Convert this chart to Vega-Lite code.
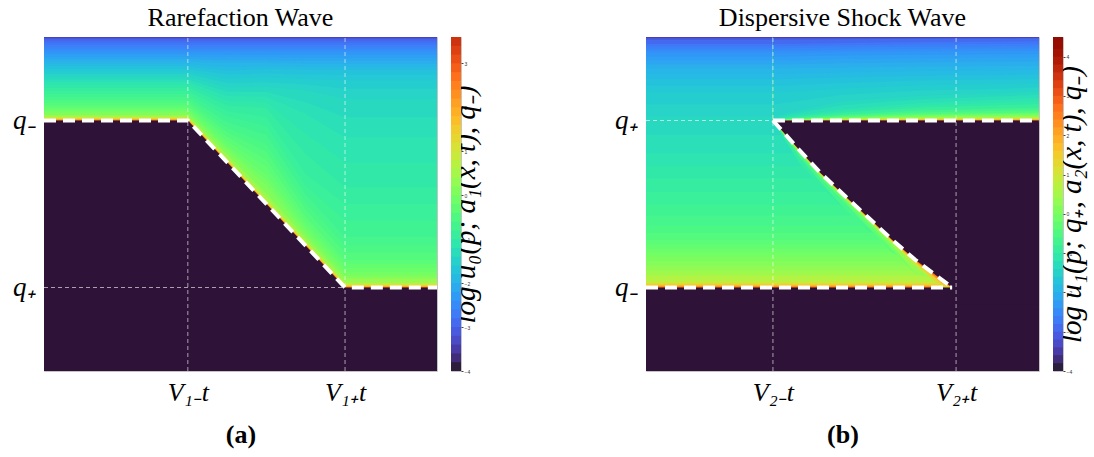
{
"$schema": "https://vega.github.io/schema/vega-lite/v6.json",
"background": "white",
"padding": {"left": 12, "top": 4, "right": 0, "bottom": 2},
"spacing": 132,
"config": {"view": {"stroke": "#c4c4c4", "strokeWidth": 1}, "axis": {"domain": false, "ticks": false, "grid": false, "labelColor": "black", "titleColor": "black"}},
"datasets": {
"a_bands": [
{"k":"a00","v":2.7,"x":0,"y":0},{"k":"a00","v":2.7,"x":100,"y":0},
{"k":"a01","v":1.9,"x":0,"y":75.19},{"k":"a01","v":1.9,"x":36.6,"y":75.19},{"k":"a01","v":1.9,"x":46.6,"y":62.65},{"k":"a01","v":1.9,"x":56.6,"y":50.15},{"k":"a01","v":1.9,"x":66.6,"y":37.68},{"k":"a01","v":1.9,"x":76.6,"y":25.2},{"k":"a01","v":1.9,"x":100,"y":25.2},
{"k":"a02","v":1.4,"x":0,"y":75.39},{"k":"a02","v":1.4,"x":36.6,"y":75.39},{"k":"a02","v":1.4,"x":46.6,"y":62.85},{"k":"a02","v":1.4,"x":56.6,"y":50.36},{"k":"a02","v":1.4,"x":66.6,"y":37.9},{"k":"a02","v":1.4,"x":76.6,"y":25.37},{"k":"a02","v":1.4,"x":100,"y":25.37},
{"k":"a03","v":1.0,"x":0,"y":75.58},{"k":"a03","v":1.0,"x":36.6,"y":75.58},{"k":"a03","v":1.0,"x":46.6,"y":63.0},{"k":"a03","v":1.0,"x":56.6,"y":50.56},{"k":"a03","v":1.0,"x":66.6,"y":38.1},{"k":"a03","v":1.0,"x":76.6,"y":25.69},{"k":"a03","v":1.0,"x":100,"y":25.69},
{"k":"a04","v":0.65,"x":0,"y":75.88},{"k":"a04","v":0.65,"x":36.6,"y":75.88},{"k":"a04","v":0.65,"x":46.6,"y":63.4},{"k":"a04","v":0.65,"x":56.6,"y":51.0},{"k":"a04","v":0.65,"x":66.6,"y":38.5},{"k":"a04","v":0.65,"x":76.6,"y":26.07},{"k":"a04","v":0.65,"x":100,"y":26.07},
{"k":"a05","v":0.35,"x":0,"y":76.24},{"k":"a05","v":0.35,"x":36.6,"y":76.24},{"k":"a05","v":0.35,"x":46.6,"y":64.0},{"k":"a05","v":0.35,"x":56.6,"y":51.8},{"k":"a05","v":0.35,"x":66.6,"y":39.03},{"k":"a05","v":0.35,"x":76.6,"y":26.5},{"k":"a05","v":0.35,"x":100,"y":26.5},
{"k":"a06","v":0.1,"x":0,"y":76.6},{"k":"a06","v":0.1,"x":36.6,"y":76.6},{"k":"a06","v":0.1,"x":46.6,"y":64.81},{"k":"a06","v":0.1,"x":56.6,"y":53.1},{"k":"a06","v":0.1,"x":66.6,"y":40.0},{"k":"a06","v":0.1,"x":76.6,"y":27.7},{"k":"a06","v":0.1,"x":100,"y":27.7},
{"k":"a07","v":-0.05,"x":0,"y":77.46},{"k":"a07","v":-0.05,"x":36.6,"y":77.46},{"k":"a07","v":-0.05,"x":46.6,"y":66.06},{"k":"a07","v":-0.05,"x":56.6,"y":55.6},{"k":"a07","v":-0.05,"x":66.6,"y":41.06},{"k":"a07","v":-0.05,"x":76.6,"y":28.7},{"k":"a07","v":-0.05,"x":100,"y":28.7},
{"k":"a08","v":-0.15,"x":0,"y":77.93},{"k":"a08","v":-0.15,"x":36.6,"y":77.93},{"k":"a08","v":-0.15,"x":46.6,"y":66.83},{"k":"a08","v":-0.15,"x":56.6,"y":57.15},{"k":"a08","v":-0.15,"x":66.6,"y":42.18},{"k":"a08","v":-0.15,"x":76.6,"y":29.75},{"k":"a08","v":-0.15,"x":100,"y":29.75},
{"k":"a09","v":-0.25,"x":0,"y":78.4},{"k":"a09","v":-0.25,"x":36.6,"y":78.4},{"k":"a09","v":-0.25,"x":46.6,"y":67.6},{"k":"a09","v":-0.25,"x":56.6,"y":58.7},{"k":"a09","v":-0.25,"x":66.6,"y":43.3},{"k":"a09","v":-0.25,"x":76.6,"y":30.8},{"k":"a09","v":-0.25,"x":100,"y":30.8},
{"k":"a10","v":-0.35,"x":0,"y":79.0},{"k":"a10","v":-0.35,"x":36.6,"y":79.0},{"k":"a10","v":-0.35,"x":46.6,"y":68.85},{"k":"a10","v":-0.35,"x":56.6,"y":61.0},{"k":"a10","v":-0.35,"x":66.6,"y":44.7},{"k":"a10","v":-0.35,"x":76.6,"y":32.05},{"k":"a10","v":-0.35,"x":100,"y":32.05},
{"k":"a11","v":-0.45,"x":0,"y":79.6},{"k":"a11","v":-0.45,"x":36.6,"y":79.6},{"k":"a11","v":-0.45,"x":46.6,"y":70.1},{"k":"a11","v":-0.45,"x":56.6,"y":63.3},{"k":"a11","v":-0.45,"x":66.6,"y":46.1},{"k":"a11","v":-0.45,"x":76.6,"y":33.3},{"k":"a11","v":-0.45,"x":100,"y":33.3},
{"k":"a12","v":-0.55,"x":0,"y":80.37},{"k":"a12","v":-0.55,"x":36.6,"y":80.37},{"k":"a12","v":-0.55,"x":46.6,"y":71.45},{"k":"a12","v":-0.55,"x":56.6,"y":65.65},{"k":"a12","v":-0.55,"x":66.6,"y":48.2},{"k":"a12","v":-0.55,"x":76.6,"y":35.45},{"k":"a12","v":-0.55,"x":100,"y":35.45},
{"k":"a13","v":-0.65,"x":0,"y":81.13},{"k":"a13","v":-0.65,"x":36.6,"y":81.13},{"k":"a13","v":-0.65,"x":46.6,"y":72.8},{"k":"a13","v":-0.65,"x":56.6,"y":68.0},{"k":"a13","v":-0.65,"x":66.6,"y":50.3},{"k":"a13","v":-0.65,"x":76.6,"y":37.6},{"k":"a13","v":-0.65,"x":100,"y":37.6},
{"k":"a14","v":-0.75,"x":0,"y":82.06},{"k":"a14","v":-0.75,"x":36.6,"y":82.06},{"k":"a14","v":-0.75,"x":46.6,"y":74.5},{"k":"a14","v":-0.75,"x":56.6,"y":70.65},{"k":"a14","v":-0.75,"x":66.6,"y":52.8},{"k":"a14","v":-0.75,"x":76.6,"y":40.15},{"k":"a14","v":-0.75,"x":100,"y":40.15},
{"k":"a15","v":-0.85,"x":0,"y":82.98},{"k":"a15","v":-0.85,"x":36.6,"y":82.98},{"k":"a15","v":-0.85,"x":46.6,"y":76.2},{"k":"a15","v":-0.85,"x":56.6,"y":73.3},{"k":"a15","v":-0.85,"x":66.6,"y":55.3},{"k":"a15","v":-0.85,"x":76.6,"y":45.0},{"k":"a15","v":-0.85,"x":100,"y":45.0},
{"k":"a16","v":-0.95,"x":0,"y":83.91},{"k":"a16","v":-0.95,"x":36.6,"y":83.91},{"k":"a16","v":-0.95,"x":46.6,"y":77.85},{"k":"a16","v":-0.95,"x":56.6,"y":76.0},{"k":"a16","v":-0.95,"x":66.6,"y":59.0},{"k":"a16","v":-0.95,"x":76.6,"y":50.0},{"k":"a16","v":-0.95,"x":100,"y":50.0},
{"k":"a17","v":-1.05,"x":0,"y":84.84},{"k":"a17","v":-1.05,"x":36.6,"y":84.84},{"k":"a17","v":-1.05,"x":46.6,"y":79.5},{"k":"a17","v":-1.05,"x":56.6,"y":78.7},{"k":"a17","v":-1.05,"x":66.6,"y":65.0},{"k":"a17","v":-1.05,"x":76.6,"y":55.0},{"k":"a17","v":-1.05,"x":100,"y":55.0},
{"k":"a18","v":-1.15,"x":0,"y":85.67},{"k":"a18","v":-1.15,"x":36.6,"y":85.67},{"k":"a18","v":-1.15,"x":46.6,"y":80.9},{"k":"a18","v":-1.15,"x":56.6,"y":80.4},{"k":"a18","v":-1.15,"x":66.6,"y":71.0},{"k":"a18","v":-1.15,"x":76.6,"y":62.5},{"k":"a18","v":-1.15,"x":100,"y":62.5},
{"k":"a19","v":-1.25,"x":0,"y":86.5},{"k":"a19","v":-1.25,"x":36.6,"y":86.5},{"k":"a19","v":-1.25,"x":46.6,"y":82.3},{"k":"a19","v":-1.25,"x":56.6,"y":82.1},{"k":"a19","v":-1.25,"x":66.6,"y":77.0},{"k":"a19","v":-1.25,"x":76.6,"y":70.0},{"k":"a19","v":-1.25,"x":100,"y":70.0},
{"k":"a20","v":-1.35,"x":0,"y":87.3},{"k":"a20","v":-1.35,"x":36.6,"y":87.3},{"k":"a20","v":-1.35,"x":46.6,"y":83.6},{"k":"a20","v":-1.35,"x":56.6,"y":83.55},{"k":"a20","v":-1.35,"x":66.6,"y":80.5},{"k":"a20","v":-1.35,"x":76.6,"y":76.0},{"k":"a20","v":-1.35,"x":100,"y":76.0},
{"k":"a21","v":-1.45,"x":0,"y":88.1},{"k":"a21","v":-1.45,"x":36.6,"y":88.1},{"k":"a21","v":-1.45,"x":46.6,"y":84.9},{"k":"a21","v":-1.45,"x":56.6,"y":85.0},{"k":"a21","v":-1.45,"x":66.6,"y":84.0},{"k":"a21","v":-1.45,"x":76.6,"y":81.5},{"k":"a21","v":-1.45,"x":100,"y":81.5},
{"k":"a22","v":-1.55,"x":0,"y":88.9},{"k":"a22","v":-1.55,"x":36.6,"y":88.9},{"k":"a22","v":-1.55,"x":46.6,"y":86.25},{"k":"a22","v":-1.55,"x":56.6,"y":86.45},{"k":"a22","v":-1.55,"x":66.6,"y":85.8},{"k":"a22","v":-1.55,"x":76.6,"y":84.5},{"k":"a22","v":-1.55,"x":100,"y":84.5},
{"k":"a23","v":-1.65,"x":0,"y":89.7},{"k":"a23","v":-1.65,"x":36.6,"y":89.7},{"k":"a23","v":-1.65,"x":46.6,"y":87.6},{"k":"a23","v":-1.65,"x":56.6,"y":87.9},{"k":"a23","v":-1.65,"x":66.6,"y":87.4},{"k":"a23","v":-1.65,"x":76.6,"y":87.0},{"k":"a23","v":-1.65,"x":100,"y":87.0},
{"k":"a24","v":-1.75,"x":0,"y":90.45},{"k":"a24","v":-1.75,"x":36.6,"y":90.45},{"k":"a24","v":-1.75,"x":46.6,"y":88.8},{"k":"a24","v":-1.75,"x":56.6,"y":89.15},{"k":"a24","v":-1.75,"x":66.6,"y":88.8},{"k":"a24","v":-1.75,"x":76.6,"y":88.6},{"k":"a24","v":-1.75,"x":100,"y":88.6},
{"k":"a25","v":-1.85,"x":0,"y":91.2},{"k":"a25","v":-1.85,"x":36.6,"y":91.2},{"k":"a25","v":-1.85,"x":46.6,"y":90.0},{"k":"a25","v":-1.85,"x":56.6,"y":90.4},{"k":"a25","v":-1.85,"x":66.6,"y":90.2},{"k":"a25","v":-1.85,"x":76.6,"y":90.2},{"k":"a25","v":-1.85,"x":100,"y":90.2},
{"k":"a26","v":-1.95,"x":0,"y":91.93},{"k":"a26","v":-1.95,"x":36.6,"y":91.93},{"k":"a26","v":-1.95,"x":46.6,"y":91.1},{"k":"a26","v":-1.95,"x":56.6,"y":91.3},{"k":"a26","v":-1.95,"x":66.6,"y":91.1},{"k":"a26","v":-1.95,"x":76.6,"y":91.1},{"k":"a26","v":-1.95,"x":100,"y":91.1},
{"k":"a27","v":-2.05,"x":0,"y":92.65},{"k":"a27","v":-2.05,"x":36.6,"y":92.65},{"k":"a27","v":-2.05,"x":46.6,"y":92.2},{"k":"a27","v":-2.05,"x":56.6,"y":92.2},{"k":"a27","v":-2.05,"x":66.6,"y":92.0},{"k":"a27","v":-2.05,"x":100,"y":92.0},
{"k":"a28","v":-2.15,"x":0,"y":93.38},{"k":"a28","v":-2.15,"x":36.6,"y":93.38},{"k":"a28","v":-2.15,"x":46.6,"y":93.05},{"k":"a28","v":-2.15,"x":56.6,"y":93.05},{"k":"a28","v":-2.15,"x":66.6,"y":92.9},{"k":"a28","v":-2.15,"x":100,"y":92.9},
{"k":"a29","v":-2.25,"x":0,"y":94.1},{"k":"a29","v":-2.25,"x":36.6,"y":94.1},{"k":"a29","v":-2.25,"x":46.6,"y":93.9},{"k":"a29","v":-2.25,"x":56.6,"y":93.9},{"k":"a29","v":-2.25,"x":66.6,"y":93.8},{"k":"a29","v":-2.25,"x":100,"y":93.8},
{"k":"a30","v":-2.35,"x":0,"y":94.83},{"k":"a30","v":-2.35,"x":36.6,"y":94.83},{"k":"a30","v":-2.35,"x":56.6,"y":94.73},{"k":"a30","v":-2.35,"x":100,"y":94.68},
{"k":"a31","v":-2.45,"x":0,"y":95.55},{"k":"a31","v":-2.45,"x":100,"y":95.55},
{"k":"a32","v":-2.55,"x":0,"y":96.23},{"k":"a32","v":-2.55,"x":100,"y":96.23},
{"k":"a33","v":-2.65,"x":0,"y":96.9},{"k":"a33","v":-2.65,"x":100,"y":96.9},
{"k":"a34","v":-2.75,"x":0,"y":97.6},{"k":"a34","v":-2.75,"x":100,"y":97.6},
{"k":"a35","v":-2.85,"x":0,"y":98.3},{"k":"a35","v":-2.85,"x":100,"y":98.3},
{"k":"a36","v":-2.95,"x":0,"y":98.82},{"k":"a36","v":-2.95,"x":100,"y":98.82},
{"k":"a37","v":-3.15,"x":0,"y":99.33},{"k":"a37","v":-3.15,"x":100,"y":99.33},
{"k":"a38","v":-3.45,"x":0,"y":99.75},{"k":"a38","v":-3.45,"x":100,"y":99.75}
],
"a_dark": [{"x":0,"y":75},{"x":36.6,"y":75},{"x":76.6,"y":25},{"x":100,"y":25}],
"a_white": [{"x":0,"y":75},{"x":36.6,"y":75},{"x":76.6,"y":25},{"x":100,"y":25}],
"a_rules": [{"x":36.6,"xe":36.6,"y":0,"ye":100},{"x":76.6,"xe":76.6,"y":0,"ye":100},{"x":0,"xe":76.6,"y":25,"ye":25}],
"b_bands": [
{"k":"b00","v":2.7,"x":0,"y":0},{"k":"b00","v":2.7,"x":100,"y":0},
{"k":"b01","v":1.9,"x":0,"y":25.3},{"k":"b01","v":1.9,"x":100,"y":25.3},
{"k":"b02","v":1.4,"x":0,"y":25.65},{"k":"b02","v":1.4,"x":100,"y":25.65},
{"k":"b03","v":1.0,"x":0,"y":26.1},{"k":"b03","v":1.0,"x":100,"y":26.1},
{"k":"b04","v":0.65,"x":0,"y":26.8},{"k":"b04","v":0.65,"x":100,"y":26.8},
{"k":"b05","v":0.425,"x":0,"y":28.6},{"k":"b05","v":0.425,"x":100,"y":28.6},
{"k":"b06","v":0.275,"x":0,"y":30.0},{"k":"b06","v":0.275,"x":100,"y":30.0},
{"k":"b07","v":0.15,"x":0,"y":31.4},{"k":"b07","v":0.15,"x":100,"y":31.4},
{"k":"b08","v":0.05,"x":0,"y":32.85},{"k":"b08","v":0.05,"x":100,"y":32.85},
{"k":"b09","v":-0.05,"x":0,"y":34.3},{"k":"b09","v":-0.05,"x":100,"y":34.3},
{"k":"b10","v":-0.15,"x":0,"y":35.45},{"k":"b10","v":-0.15,"x":100,"y":35.45},
{"k":"b11","v":-0.25,"x":0,"y":36.6},{"k":"b11","v":-0.25,"x":100,"y":36.6},
{"k":"b12","v":-0.35,"x":0,"y":37.95},{"k":"b12","v":-0.35,"x":100,"y":37.95},
{"k":"b13","v":-0.45,"x":0,"y":39.3},{"k":"b13","v":-0.45,"x":100,"y":39.3},
{"k":"b14","v":-0.55,"x":0,"y":41.35},{"k":"b14","v":-0.55,"x":100,"y":41.35},
{"k":"b15","v":-0.65,"x":0,"y":43.4},{"k":"b15","v":-0.65,"x":100,"y":43.4},
{"k":"b16","v":-0.75,"x":0,"y":46.55},{"k":"b16","v":-0.75,"x":100,"y":46.55},
{"k":"b17","v":-0.85,"x":0,"y":49.7},{"k":"b17","v":-0.85,"x":100,"y":49.7},
{"k":"b18","v":-0.95,"x":0,"y":53.7},{"k":"b18","v":-0.95,"x":100,"y":53.7},
{"k":"b19","v":-1.05,"x":0,"y":57.7},{"k":"b19","v":-1.05,"x":100,"y":57.7},
{"k":"b20","v":-1.15,"x":0,"y":61.45},{"k":"b20","v":-1.15,"x":100,"y":61.45},
{"k":"b21","v":-1.25,"x":0,"y":65.2},{"k":"b21","v":-1.25,"x":100,"y":65.2},
{"k":"b22","v":-1.35,"x":0,"y":70.69},{"k":"b22","v":-1.35,"x":100,"y":70.69},
{"k":"b23","v":-1.45,"x":0,"y":76.18},{"k":"b23","v":-1.45,"x":100,"y":76.18},
{"k":"b24","v":-1.55,"x":0,"y":79.78},{"k":"b24","v":-1.55,"x":100,"y":79.78},
{"k":"b25","v":-1.65,"x":0,"y":83.38},{"k":"b25","v":-1.65,"x":100,"y":83.38},
{"k":"b26","v":-1.75,"x":0,"y":85.33},{"k":"b26","v":-1.75,"x":100,"y":85.33},
{"k":"b27","v":-1.85,"x":0,"y":87.28},{"k":"b27","v":-1.85,"x":100,"y":87.28},
{"k":"b28","v":-1.95,"x":0,"y":88.93},{"k":"b28","v":-1.95,"x":100,"y":88.93},
{"k":"b29","v":-2.05,"x":0,"y":90.57},{"k":"b29","v":-2.05,"x":100,"y":90.57},
{"k":"b30","v":-2.15,"x":0,"y":91.76},{"k":"b30","v":-2.15,"x":100,"y":91.76},
{"k":"b31","v":-2.25,"x":0,"y":92.95},{"k":"b31","v":-2.25,"x":100,"y":92.95},
{"k":"b32","v":-2.35,"x":0,"y":94.1},{"k":"b32","v":-2.35,"x":100,"y":94.1},
{"k":"b33","v":-2.45,"x":0,"y":95.26},{"k":"b33","v":-2.45,"x":100,"y":95.26},
{"k":"b34","v":-2.55,"x":0,"y":95.93},{"k":"b34","v":-2.55,"x":100,"y":95.93},
{"k":"b35","v":-2.65,"x":0,"y":96.6},{"k":"b35","v":-2.65,"x":100,"y":96.6},
{"k":"b36","v":-2.75,"x":0,"y":97.25},{"k":"b36","v":-2.75,"x":100,"y":97.25},
{"k":"b37","v":-2.9,"x":0,"y":97.9},{"k":"b37","v":-2.9,"x":100,"y":97.9},
{"k":"b38","v":-3.15,"x":0,"y":99.2},{"k":"b38","v":-3.15,"x":100,"y":99.2},
{"k":"b39","v":-3.45,"x":0,"y":99.7},{"k":"b39","v":-3.45,"x":100,"y":99.7}
],
"c_bands": [
{"k":"c00","v":2.7,"x":32.3,"y":74.7},{"k":"c00","v":2.7,"x":100,"y":74.7},
{"k":"c01","v":1.9,"x":32.3,"y":75},{"k":"c01","v":1.9,"x":36,"y":75.03},{"k":"c01","v":1.9,"x":50,"y":75.1},{"k":"c01","v":1.9,"x":70,"y":75.12},{"k":"c01","v":1.9,"x":100,"y":75.15},
{"k":"c02","v":1.4,"x":32.3,"y":75},{"k":"c02","v":1.4,"x":36,"y":75.05},{"k":"c02","v":1.4,"x":50,"y":75.18},{"k":"c02","v":1.4,"x":70,"y":75.24},{"k":"c02","v":1.4,"x":100,"y":75.3},
{"k":"c03","v":1.0,"x":32.3,"y":75},{"k":"c03","v":1.0,"x":36,"y":75.08},{"k":"c03","v":1.0,"x":50,"y":75.25},{"k":"c03","v":1.0,"x":70,"y":75.35},{"k":"c03","v":1.0,"x":100,"y":75.43},
{"k":"c04","v":0.65,"x":32.3,"y":75},{"k":"c04","v":0.65,"x":36,"y":75.12},{"k":"c04","v":0.65,"x":50,"y":75.38},{"k":"c04","v":0.65,"x":70,"y":75.55},{"k":"c04","v":0.65,"x":100,"y":75.71},
{"k":"c05","v":0.35,"x":32.3,"y":75},{"k":"c05","v":0.35,"x":36,"y":75.17},{"k":"c05","v":0.35,"x":50,"y":75.5},{"k":"c05","v":0.35,"x":70,"y":75.8},{"k":"c05","v":0.35,"x":100,"y":76.03},
{"k":"c06","v":0.1,"x":32.3,"y":75},{"k":"c06","v":0.1,"x":36,"y":75.22},{"k":"c06","v":0.1,"x":50,"y":75.65},{"k":"c06","v":0.1,"x":70,"y":76.05},{"k":"c06","v":0.1,"x":100,"y":76.38},
{"k":"c07","v":-0.1,"x":32.3,"y":75},{"k":"c07","v":-0.1,"x":36,"y":75.27},{"k":"c07","v":-0.1,"x":50,"y":75.8},{"k":"c07","v":-0.1,"x":70,"y":76.3},{"k":"c07","v":-0.1,"x":100,"y":76.74},
{"k":"c08","v":-0.3,"x":32.3,"y":75},{"k":"c08","v":-0.3,"x":36,"y":75.33},{"k":"c08","v":-0.3,"x":50,"y":75.95},{"k":"c08","v":-0.3,"x":70,"y":76.6},{"k":"c08","v":-0.3,"x":100,"y":77.1},
{"k":"c09","v":-0.5,"x":32.3,"y":75},{"k":"c09","v":-0.5,"x":36,"y":75.4},{"k":"c09","v":-0.5,"x":50,"y":76.15},{"k":"c09","v":-0.5,"x":70,"y":76.9},{"k":"c09","v":-0.5,"x":100,"y":77.45},
{"k":"c10","v":-0.7,"x":32.3,"y":75},{"k":"c10","v":-0.7,"x":36,"y":75.5},{"k":"c10","v":-0.7,"x":50,"y":76.4},{"k":"c10","v":-0.7,"x":70,"y":77.4},{"k":"c10","v":-0.7,"x":100,"y":78.1},
{"k":"c11","v":-0.9,"x":32.3,"y":75},{"k":"c11","v":-0.9,"x":36,"y":75.6},{"k":"c11","v":-0.9,"x":50,"y":76.75},{"k":"c11","v":-0.9,"x":70,"y":78.0},{"k":"c11","v":-0.9,"x":100,"y":78.8},
{"k":"c12","v":-1.05,"x":32.3,"y":75},{"k":"c12","v":-1.05,"x":36,"y":75.8},{"k":"c12","v":-1.05,"x":50,"y":77.3},{"k":"c12","v":-1.05,"x":70,"y":78.9},{"k":"c12","v":-1.05,"x":100,"y":79.9},
{"k":"c13","v":-1.15,"x":32.3,"y":75},{"k":"c13","v":-1.15,"x":36,"y":76.0},{"k":"c13","v":-1.15,"x":50,"y":77.85},{"k":"c13","v":-1.15,"x":70,"y":79.6},{"k":"c13","v":-1.15,"x":100,"y":80.83},
{"k":"c14","v":-1.25,"x":32.3,"y":75},{"k":"c14","v":-1.25,"x":36,"y":76.2},{"k":"c14","v":-1.25,"x":50,"y":78.4},{"k":"c14","v":-1.25,"x":70,"y":80.3},{"k":"c14","v":-1.25,"x":100,"y":81.75},
{"k":"c15","v":-1.35,"x":32.3,"y":75.59},{"k":"c15","v":-1.35,"x":36,"y":76.75},{"k":"c15","v":-1.35,"x":50,"y":79.6},{"k":"c15","v":-1.35,"x":70,"y":81.35},{"k":"c15","v":-1.35,"x":100,"y":82.68},
{"k":"c16","v":-1.45,"x":32.3,"y":76.18},{"k":"c16","v":-1.45,"x":36,"y":77.3},{"k":"c16","v":-1.45,"x":50,"y":80.8},{"k":"c16","v":-1.45,"x":70,"y":82.4},{"k":"c16","v":-1.45,"x":100,"y":83.6},
{"k":"c17","v":-1.55,"x":32.3,"y":79.78},{"k":"c17","v":-1.55,"x":36,"y":80.4},{"k":"c17","v":-1.55,"x":50,"y":82.7},{"k":"c17","v":-1.55,"x":70,"y":83.95},{"k":"c17","v":-1.55,"x":100,"y":84.85},
{"k":"c18","v":-1.65,"x":32.3,"y":83.38},{"k":"c18","v":-1.65,"x":36,"y":83.5},{"k":"c18","v":-1.65,"x":50,"y":84.6},{"k":"c18","v":-1.65,"x":70,"y":85.5},{"k":"c18","v":-1.65,"x":100,"y":86.1},
{"k":"c19","v":-1.75,"x":32.3,"y":85.33},{"k":"c19","v":-1.75,"x":36,"y":85.45},{"k":"c19","v":-1.75,"x":50,"y":86.25},{"k":"c19","v":-1.75,"x":70,"y":86.95},{"k":"c19","v":-1.75,"x":100,"y":87.45},
{"k":"c20","v":-1.85,"x":32.3,"y":87.28},{"k":"c20","v":-1.85,"x":36,"y":87.4},{"k":"c20","v":-1.85,"x":50,"y":87.9},{"k":"c20","v":-1.85,"x":70,"y":88.4},{"k":"c20","v":-1.85,"x":100,"y":88.8},
{"k":"c21","v":-1.95,"x":32.3,"y":88.93},{"k":"c21","v":-1.95,"x":36,"y":89.03},{"k":"c21","v":-1.95,"x":50,"y":89.4},{"k":"c21","v":-1.95,"x":70,"y":89.8},{"k":"c21","v":-1.95,"x":100,"y":90.1},
{"k":"c22","v":-2.05,"x":32.3,"y":90.57},{"k":"c22","v":-2.05,"x":36,"y":90.65},{"k":"c22","v":-2.05,"x":50,"y":90.9},{"k":"c22","v":-2.05,"x":70,"y":91.2},{"k":"c22","v":-2.05,"x":100,"y":91.4},
{"k":"c23","v":-2.15,"x":32.3,"y":91.76},{"k":"c23","v":-2.15,"x":36,"y":91.83},{"k":"c23","v":-2.15,"x":50,"y":92.15},{"k":"c23","v":-2.15,"x":70,"y":92.45},{"k":"c23","v":-2.15,"x":100,"y":92.65},
{"k":"c24","v":-2.25,"x":32.3,"y":92.95},{"k":"c24","v":-2.25,"x":36,"y":93.0},{"k":"c24","v":-2.25,"x":50,"y":93.4},{"k":"c24","v":-2.25,"x":70,"y":93.7},{"k":"c24","v":-2.25,"x":100,"y":93.9},
{"k":"c25","v":-2.35,"x":32.3,"y":94.1},{"k":"c25","v":-2.35,"x":36,"y":94.15},{"k":"c25","v":-2.35,"x":50,"y":94.45},{"k":"c25","v":-2.35,"x":70,"y":94.7},{"k":"c25","v":-2.35,"x":100,"y":94.9},
{"k":"c26","v":-2.45,"x":32.3,"y":95.26},{"k":"c26","v":-2.45,"x":36,"y":95.3},{"k":"c26","v":-2.45,"x":50,"y":95.5},{"k":"c26","v":-2.45,"x":70,"y":95.7},{"k":"c26","v":-2.45,"x":100,"y":95.9},
{"k":"c27","v":-2.55,"x":32.3,"y":95.93},{"k":"c27","v":-2.55,"x":36,"y":95.98},{"k":"c27","v":-2.55,"x":50,"y":96.2},{"k":"c27","v":-2.55,"x":70,"y":96.4},{"k":"c27","v":-2.55,"x":100,"y":96.6},
{"k":"c28","v":-2.65,"x":32.3,"y":96.6},{"k":"c28","v":-2.65,"x":36,"y":96.65},{"k":"c28","v":-2.65,"x":50,"y":96.9},{"k":"c28","v":-2.65,"x":70,"y":97.1},{"k":"c28","v":-2.65,"x":100,"y":97.3},
{"k":"c29","v":-2.75,"x":32.3,"y":97.25},{"k":"c29","v":-2.75,"x":36,"y":97.3},{"k":"c29","v":-2.75,"x":50,"y":97.55},{"k":"c29","v":-2.75,"x":70,"y":97.8},{"k":"c29","v":-2.75,"x":100,"y":98.0},
{"k":"c30","v":-2.9,"x":32.3,"y":97.9},{"k":"c30","v":-2.9,"x":36,"y":97.95},{"k":"c30","v":-2.9,"x":50,"y":98.2},{"k":"c30","v":-2.9,"x":70,"y":98.5},{"k":"c30","v":-2.9,"x":100,"y":98.7},
{"k":"c31","v":-3.15,"x":32.3,"y":99.2},{"k":"c31","v":-3.15,"x":36,"y":99.25},{"k":"c31","v":-3.15,"x":50,"y":99.35},{"k":"c31","v":-3.15,"x":70,"y":99.5},{"k":"c31","v":-3.15,"x":100,"y":99.6},
{"k":"c32","v":-3.45,"x":32.3,"y":99.7},{"k":"c32","v":-3.45,"x":100,"y":99.75}
],
"d_bands": [
{"k":"d00","v":-0.95,"x":32.3,"y":75,"lo":75},{"k":"d00","v":-0.95,"x":38.9,"y":66.9,"lo":62.5},{"k":"d00","v":-0.95,"x":44.4,"y":59.9,"lo":55.3},{"k":"d00","v":-0.95,"x":50.7,"y":52.9,"lo":48.3},{"k":"d00","v":-0.95,"x":56.7,"y":46.4,"lo":45.8},{"k":"d00","v":-0.95,"x":62.6,"y":39.9,"lo":39.3},{"k":"d00","v":-0.95,"x":68.5,"y":33.9,"lo":33.3},{"k":"d00","v":-0.95,"x":75.3,"y":27.9,"lo":27.3},{"k":"d00","v":-0.95,"x":77.9,"y":25.6,"lo":25},
{"k":"d01","v":-0.65,"x":32.3,"y":75,"lo":75},{"k":"d01","v":-0.65,"x":38.9,"y":66.9,"lo":64.35},{"k":"d01","v":-0.65,"x":44.4,"y":59.9,"lo":56.6},{"k":"d01","v":-0.65,"x":50.7,"y":52.9,"lo":48.3},{"k":"d01","v":-0.65,"x":56.7,"y":46.4,"lo":41.8},{"k":"d01","v":-0.65,"x":62.6,"y":39.9,"lo":39.3},{"k":"d01","v":-0.65,"x":68.5,"y":33.9,"lo":33.3},{"k":"d01","v":-0.65,"x":75.3,"y":27.9,"lo":27.3},{"k":"d01","v":-0.65,"x":77.9,"y":25.6,"lo":25},
{"k":"d02","v":-0.35,"x":32.3,"y":75,"lo":75},{"k":"d02","v":-0.35,"x":38.9,"y":66.9,"lo":65.03},{"k":"d02","v":-0.35,"x":44.4,"y":59.9,"lo":57.8},{"k":"d02","v":-0.35,"x":50.7,"y":52.9,"lo":50.2},{"k":"d02","v":-0.35,"x":56.7,"y":46.4,"lo":42.8},{"k":"d02","v":-0.35,"x":62.6,"y":39.9,"lo":35.3},{"k":"d02","v":-0.35,"x":68.5,"y":33.9,"lo":33.3},{"k":"d02","v":-0.35,"x":75.3,"y":27.9,"lo":27.3},{"k":"d02","v":-0.35,"x":77.9,"y":25.6,"lo":25},
{"k":"d03","v":-0.05,"x":32.3,"y":75,"lo":75},{"k":"d03","v":-0.05,"x":38.9,"y":66.9,"lo":65.42},{"k":"d03","v":-0.05,"x":44.4,"y":59.9,"lo":58.25},{"k":"d03","v":-0.05,"x":50.7,"y":52.9,"lo":50.95},{"k":"d03","v":-0.05,"x":56.7,"y":46.4,"lo":44.05},{"k":"d03","v":-0.05,"x":62.6,"y":39.9,"lo":36.3},{"k":"d03","v":-0.05,"x":68.5,"y":33.9,"lo":29.3},{"k":"d03","v":-0.05,"x":75.3,"y":27.9,"lo":27.3},{"k":"d03","v":-0.05,"x":77.9,"y":25.6,"lo":25},
{"k":"d04","v":0.3,"x":32.3,"y":75,"lo":75},{"k":"d04","v":0.3,"x":38.9,"y":66.9,"lo":65.71},{"k":"d04","v":0.3,"x":44.4,"y":59.9,"lo":58.58},{"k":"d04","v":0.3,"x":50.7,"y":52.9,"lo":51.37},{"k":"d04","v":0.3,"x":56.7,"y":46.4,"lo":44.65},{"k":"d04","v":0.3,"x":62.6,"y":39.9,"lo":37.55},{"k":"d04","v":0.3,"x":68.5,"y":33.9,"lo":29.3},{"k":"d04","v":0.3,"x":75.3,"y":27.9,"lo":27.3},{"k":"d04","v":0.3,"x":77.9,"y":25.6,"lo":25},
{"k":"d05","v":0.75,"x":32.3,"y":75,"lo":75},{"k":"d05","v":0.75,"x":38.9,"y":66.9,"lo":65.93},{"k":"d05","v":0.75,"x":44.4,"y":59.9,"lo":58.85},{"k":"d05","v":0.75,"x":50.7,"y":52.9,"lo":51.74},{"k":"d05","v":0.75,"x":56.7,"y":46.4,"lo":45.12},{"k":"d05","v":0.75,"x":62.6,"y":39.9,"lo":38.3},{"k":"d05","v":0.75,"x":68.5,"y":33.9,"lo":31.35},{"k":"d05","v":0.75,"x":75.3,"y":27.9,"lo":25},{"k":"d05","v":0.75,"x":77.9,"y":25.6,"lo":25},
{"k":"d06","v":1.3,"x":32.3,"y":75,"lo":75},{"k":"d06","v":1.3,"x":38.9,"y":66.9,"lo":66.06},{"k":"d06","v":1.3,"x":44.4,"y":59.9,"lo":59.02},{"k":"d06","v":1.3,"x":50.7,"y":52.9,"lo":51.97},{"k":"d06","v":1.3,"x":56.7,"y":46.4,"lo":45.42},{"k":"d06","v":1.3,"x":62.6,"y":39.9,"lo":38.75},{"k":"d06","v":1.3,"x":68.5,"y":33.9,"lo":32.3},{"k":"d06","v":1.3,"x":75.3,"y":27.9,"lo":25},{"k":"d06","v":1.3,"x":77.9,"y":25.6,"lo":25},
{"k":"d07","v":1.9,"x":32.3,"y":75,"lo":75},{"k":"d07","v":1.9,"x":38.9,"y":66.9,"lo":66.17},{"k":"d07","v":1.9,"x":44.4,"y":59.9,"lo":59.15},{"k":"d07","v":1.9,"x":50.7,"y":52.9,"lo":52.11},{"k":"d07","v":1.9,"x":56.7,"y":46.4,"lo":45.58},{"k":"d07","v":1.9,"x":62.6,"y":39.9,"lo":39.0},{"k":"d07","v":1.9,"x":68.5,"y":33.9,"lo":32.8},{"k":"d07","v":1.9,"x":75.3,"y":27.9,"lo":26.2},{"k":"d07","v":1.9,"x":77.9,"y":25.6,"lo":25},
{"k":"d08","v":2.6,"x":32.3,"y":75,"lo":75},{"k":"d08","v":2.6,"x":38.9,"y":66.9,"lo":66.22},{"k":"d08","v":2.6,"x":44.4,"y":59.9,"lo":59.21},{"k":"d08","v":2.6,"x":50.7,"y":52.9,"lo":52.2},{"k":"d08","v":2.6,"x":56.7,"y":46.4,"lo":45.68},{"k":"d08","v":2.6,"x":62.6,"y":39.9,"lo":39.13},{"k":"d08","v":2.6,"x":68.5,"y":33.9,"lo":33.03},{"k":"d08","v":2.6,"x":75.3,"y":27.9,"lo":26.75},{"k":"d08","v":2.6,"x":77.9,"y":25.6,"lo":25}
],
"b_dark": [
{"k":"1","x":0,"y":25,"lo":0},{"k":"1","x":100,"y":25,"lo":0},
{"k":"2","x":32.3,"y":75,"lo":75},{"k":"2","x":38.9,"y":75,"lo":66.3},{"k":"2","x":44.4,"y":75,"lo":59.3},{"k":"2","x":50.7,"y":75,"lo":52.3},{"k":"2","x":56.7,"y":75,"lo":45.8},{"k":"2","x":62.6,"y":75,"lo":39.3},{"k":"2","x":68.5,"y":75,"lo":33.3},{"k":"2","x":75.3,"y":75,"lo":27.3},{"k":"2","x":77.9,"y":75,"lo":25},{"k":"2","x":78.0,"y":75,"lo":20},{"k":"2","x":100,"y":75,"lo":20}
],
"b_white": [
{"s":"m","x":0,"y":25},{"s":"m","x":77.9,"y":25},
{"s":"c","x":32.3,"y":75},{"s":"c","x":38.9,"y":66.3},{"s":"c","x":44.4,"y":59.3},{"s":"c","x":50.7,"y":52.3},{"s":"c","x":56.7,"y":45.8},{"s":"c","x":62.6,"y":39.3},{"s":"c","x":68.5,"y":33.3},{"s":"c","x":75.3,"y":27.3},{"s":"c","x":77.9,"y":25},
{"s":"p","x":32.3,"y":75},{"s":"p","x":100,"y":75}
],
"b_rules": [{"x":32.3,"xe":32.3,"y":0,"ye":100},{"x":78.9,"xe":78.9,"y":0,"ye":100},{"x":0,"xe":32.3,"y":75,"ye":75}],
"cb_a": [
{"lo":-4.0,"hi":-3.78,"v":-3.9},{"lo":-3.8,"hi":-3.58,"v":-3.7},{"lo":-3.6,"hi":-3.38,"v":-3.5},{"lo":-3.4,"hi":-3.18,"v":-3.3},{"lo":-3.2,"hi":-2.98,"v":-3.1},{"lo":-3.0,"hi":-2.78,"v":-2.9},{"lo":-2.8,"hi":-2.58,"v":-2.7},{"lo":-2.6,"hi":-2.38,"v":-2.5},{"lo":-2.4,"hi":-2.18,"v":-2.3},{"lo":-2.2,"hi":-1.98,"v":-2.1},
{"lo":-2.0,"hi":-1.78,"v":-1.9},{"lo":-1.8,"hi":-1.58,"v":-1.7},{"lo":-1.6,"hi":-1.38,"v":-1.5},{"lo":-1.4,"hi":-1.18,"v":-1.3},{"lo":-1.2,"hi":-0.98,"v":-1.1},{"lo":-1.0,"hi":-0.78,"v":-0.9},{"lo":-0.8,"hi":-0.58,"v":-0.7},{"lo":-0.6,"hi":-0.38,"v":-0.5},{"lo":-0.4,"hi":-0.18,"v":-0.3},{"lo":-0.2,"hi":0.02,"v":-0.1},
{"lo":0.0,"hi":0.22,"v":0.1},{"lo":0.2,"hi":0.42,"v":0.3},{"lo":0.4,"hi":0.62,"v":0.5},{"lo":0.6,"hi":0.82,"v":0.7},{"lo":0.8,"hi":1.02,"v":0.9},{"lo":1.0,"hi":1.22,"v":1.1},{"lo":1.2,"hi":1.42,"v":1.3},{"lo":1.4,"hi":1.62,"v":1.5},{"lo":1.6,"hi":1.82,"v":1.7},{"lo":1.8,"hi":2.02,"v":1.9},
{"lo":2.0,"hi":2.22,"v":2.1},{"lo":2.2,"hi":2.42,"v":2.3},{"lo":2.4,"hi":2.62,"v":2.5},{"lo":2.6,"hi":2.82,"v":2.7},{"lo":2.8,"hi":3.02,"v":2.9},{"lo":3.0,"hi":3.22,"v":3.1},{"lo":3.2,"hi":3.42,"v":3.3},{"lo":3.4,"hi":3.6,"v":3.5}
],
"cb_b": [
{"lo":-4.0,"hi":-3.78,"v":-3.9},{"lo":-3.8,"hi":-3.58,"v":-3.7},{"lo":-3.6,"hi":-3.38,"v":-3.5},{"lo":-3.4,"hi":-3.18,"v":-3.3},{"lo":-3.2,"hi":-2.98,"v":-3.1},{"lo":-3.0,"hi":-2.78,"v":-2.9},{"lo":-2.8,"hi":-2.58,"v":-2.7},{"lo":-2.6,"hi":-2.38,"v":-2.5},{"lo":-2.4,"hi":-2.18,"v":-2.3},{"lo":-2.2,"hi":-1.98,"v":-2.1},
{"lo":-2.0,"hi":-1.78,"v":-1.9},{"lo":-1.8,"hi":-1.58,"v":-1.7},{"lo":-1.6,"hi":-1.38,"v":-1.5},{"lo":-1.4,"hi":-1.18,"v":-1.3},{"lo":-1.2,"hi":-0.98,"v":-1.1},{"lo":-1.0,"hi":-0.78,"v":-0.9},{"lo":-0.8,"hi":-0.58,"v":-0.7},{"lo":-0.6,"hi":-0.38,"v":-0.5},{"lo":-0.4,"hi":-0.18,"v":-0.3},{"lo":-0.2,"hi":0.02,"v":-0.1},
{"lo":0.0,"hi":0.22,"v":0.1},{"lo":0.2,"hi":0.42,"v":0.3},{"lo":0.4,"hi":0.62,"v":0.5},{"lo":0.6,"hi":0.82,"v":0.7},{"lo":0.8,"hi":1.02,"v":0.9},{"lo":1.0,"hi":1.22,"v":1.1},{"lo":1.2,"hi":1.42,"v":1.3},{"lo":1.4,"hi":1.62,"v":1.5},{"lo":1.6,"hi":1.82,"v":1.7},{"lo":1.8,"hi":2.02,"v":1.9},
{"lo":2.0,"hi":2.22,"v":2.1},{"lo":2.2,"hi":2.42,"v":2.3},{"lo":2.4,"hi":2.62,"v":2.5},{"lo":2.6,"hi":2.82,"v":2.7},{"lo":2.8,"hi":3.02,"v":2.9},{"lo":3.0,"hi":3.22,"v":3.1},{"lo":3.2,"hi":3.42,"v":3.3},{"lo":3.4,"hi":3.62,"v":3.5},{"lo":3.6,"hi":3.82,"v":3.7},{"lo":3.8,"hi":4.02,"v":3.9},
{"lo":4.0,"hi":4.22,"v":4.1},{"lo":4.2,"hi":4.42,"v":4.3},{"lo":4.4,"hi":4.5,"v":4.45}
]
},
"hconcat": [
{"spacing": 4, "hconcat": [
 {"width": 393, "height": 334,
  "title": {"text": "Rarefaction Wave", "font": "Liberation Serif", "fontSize": 26, "fontWeight": "normal", "offset": 6, "color": "black"},
  "encoding": {
   "x": {"field": "x", "type": "quantitative", "scale": {"domain": [0, 100], "nice": false, "zero": false},
     "axis": {"title": "(a)", "values": [36.6, 76.6], "labelExpr": "datum.value < 50 ? 'V₁₋t' : 'V₁₊t'", "labelFont": "Liberation Serif", "labelFontStyle": "italic", "labelFontSize": 26, "labelPadding": 8, "labelFlush": false, "labelOverlap": false, "titleFont": "Liberation Serif", "titleFontSize": 26, "titleFontWeight": "bold", "titlePadding": 16}},
   "y": {"field": "y", "type": "quantitative", "stack": null, "scale": {"domain": [0, 100], "nice": false, "zero": false},
     "axis": {"title": null, "values": [25, 75], "labelExpr": "datum.value > 50 ? 'q₋' : 'q₊'", "labelFont": "Liberation Serif", "labelFontStyle": "italic", "labelFontSize": 27, "labelPadding": 9, "labelOverlap": false}}
  },
  "layer": [
   {"data": {"name": "a_bands"}, "mark": {"type": "area", "clip": true},
    "encoding": {"y2": {"datum": 100}, "color": {"field": "v", "type": "quantitative", "scale": {"scheme": "turbo", "domain": [-4, 3.6]}, "legend": null}, "detail": {"field": "k", "type": "nominal"}}},
   {"data": {"name": "a_dark"}, "mark": {"type": "area", "clip": true, "color": "#2e1237"},
    "encoding": {"y2": {"datum": 0}}},
   {"data": {"name": "a_rules"}, "mark": {"type": "rule", "color": "white", "opacity": 0.6, "strokeWidth": 1, "strokeDash": [4, 3]},
    "encoding": {"x2": {"field": "xe"}, "y2": {"field": "ye"}}},
   {"data": {"name": "a_white"}, "mark": {"type": "line", "color": "white", "strokeWidth": 4, "strokeDash": [12, 7]},
    "encoding": {}}
  ]
 },
 {"width": 10, "height": 334,
  "data": {"name": "cb_a"},
  "mark": "rect",
  "encoding": {
   "x": {"datum": 0, "type": "quantitative", "scale": {"domain": [0, 1]}, "axis": null},
   "x2": {"datum": 1},
   "y": {"field": "lo", "type": "quantitative", "scale": {"domain": [-4, 3.6], "nice": false, "zero": false},
     "axis": {"orient": "right", "values": [-4, -3, -2, -1, 0, 1, 2, 3], "ticks": true, "tickSize": 2, "tickColor": "#444", "labelFontSize": 5, "labelPadding": 1, "labelColor": "#333", "labelFont": "Liberation Sans",
       "title": "log u₀(p; a₁(x, t), q₋)", "titleAngle": 270, "titleFont": "Liberation Serif", "titleFontStyle": "italic", "titleFontWeight": "normal", "titleFontSize": 29, "titlePadding": 11}},
   "y2": {"field": "hi"},
   "color": {"field": "v", "type": "quantitative", "scale": {"scheme": "turbo", "domain": [-4, 3.6]}, "legend": null}
  }
 }
]},
{"spacing": 4, "hconcat": [
 {"width": 393, "height": 334,
  "title": {"text": "Dispersive Shock Wave", "font": "Liberation Serif", "fontSize": 26, "fontWeight": "normal", "offset": 6, "color": "black"},
  "encoding": {
   "x": {"field": "x", "type": "quantitative", "scale": {"domain": [0, 100], "nice": false, "zero": false},
     "axis": {"title": "(b)", "values": [32.3, 78.9], "labelExpr": "datum.value < 50 ? 'V₂₋t' : 'V₂₊t'", "labelFont": "Liberation Serif", "labelFontStyle": "italic", "labelFontSize": 26, "labelPadding": 8, "labelFlush": false, "labelOverlap": false, "titleFont": "Liberation Serif", "titleFontSize": 26, "titleFontWeight": "bold", "titlePadding": 16}},
   "y": {"field": "y", "type": "quantitative", "stack": null, "scale": {"domain": [0, 100], "nice": false, "zero": false},
     "axis": {"title": null, "values": [25, 75], "labelExpr": "datum.value > 50 ? 'q₊' : 'q₋'", "labelFont": "Liberation Serif", "labelFontStyle": "italic", "labelFontSize": 27, "labelPadding": 9, "labelOverlap": false}}
  },
  "layer": [
   {"data": {"name": "b_bands"}, "mark": {"type": "area", "clip": true},
    "encoding": {"y2": {"datum": 100}, "color": {"field": "v", "type": "quantitative", "scale": {"scheme": "turbo", "domain": [-4, 4.5]}, "legend": null}, "detail": {"field": "k", "type": "nominal"}}},
   {"data": {"name": "c_bands"}, "mark": {"type": "area", "clip": true},
    "encoding": {"y2": {"datum": 100}, "color": {"field": "v", "type": "quantitative", "scale": {"scheme": "turbo", "domain": [-4, 4.5]}, "legend": null}, "detail": {"field": "k", "type": "nominal"}}},
   {"data": {"name": "d_bands"}, "mark": {"type": "area", "clip": true},
    "encoding": {"y2": {"field": "lo"}, "color": {"field": "v", "type": "quantitative", "scale": {"scheme": "turbo", "domain": [-4, 4.5]}, "legend": null}, "detail": {"field": "k", "type": "nominal"}}},
   {"data": {"name": "b_dark"}, "mark": {"type": "area", "clip": true, "color": "#2e1237"},
    "encoding": {"y2": {"field": "lo"}, "detail": {"field": "k", "type": "nominal"}}},
   {"data": {"name": "b_rules"}, "mark": {"type": "rule", "color": "white", "opacity": 0.6, "strokeWidth": 1, "strokeDash": [4, 3]},
    "encoding": {"x2": {"field": "xe"}, "y2": {"field": "ye"}}},
   {"data": {"name": "b_white"}, "mark": {"type": "line", "color": "white", "strokeWidth": 4, "strokeDash": [12, 7]},
    "encoding": {"detail": {"field": "s", "type": "nominal"}}}
  ]
 },
 {"width": 10, "height": 334,
  "data": {"name": "cb_b"},
  "mark": "rect",
  "encoding": {
   "x": {"datum": 0, "type": "quantitative", "scale": {"domain": [0, 1]}, "axis": null},
   "x2": {"datum": 1},
   "y": {"field": "lo", "type": "quantitative", "scale": {"domain": [-4, 4.5], "nice": false, "zero": false},
     "axis": {"orient": "right", "values": [-4, -3, -2, -1, 0, 1, 2, 3, 4], "ticks": true, "tickSize": 2, "tickColor": "#444", "labelFontSize": 5, "labelPadding": 1, "labelColor": "#333", "labelFont": "Liberation Sans",
       "title": "log u₁(p; q₊, a₂(x, t), q₋)", "titleAngle": 270, "titleFont": "Liberation Serif", "titleFontStyle": "italic", "titleFontWeight": "normal", "titleFontSize": 29, "titlePadding": 15}},
   "y2": {"field": "hi"},
   "color": {"field": "v", "type": "quantitative", "scale": {"scheme": "turbo", "domain": [-4, 4.5]}, "legend": null}
  }
 }
]}
]
}
